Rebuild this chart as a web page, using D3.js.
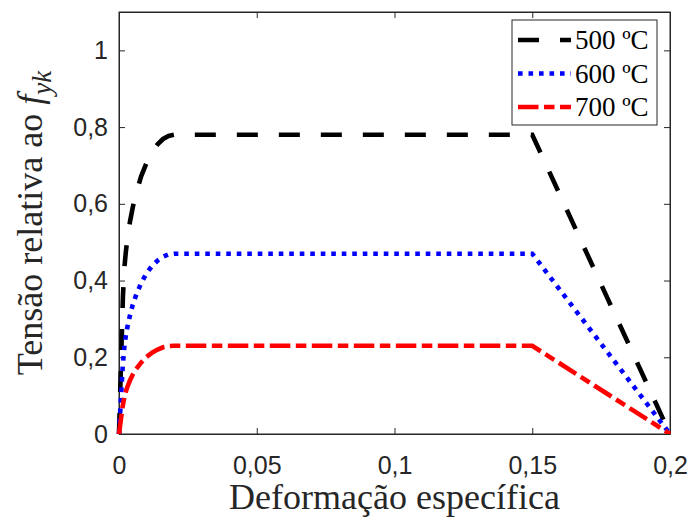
<!DOCTYPE html>
<meta charset="utf-8">
<script src="https://d3js.org/d3.v7.min.js"></script>
<style>
  body { margin: 0; background: #fff; }
</style>
<div id="my_dataviz"></div>
<script>
  // strain (x) and relative stress (y)
  var strain500 = [0, 0.00143, 0.002, 0.0025, 0.003, 0.004, 0.005, 0.006, 0.008, 0.010, 0.012, 0.014, 0.016, 0.018, 0.020, 0.150, 0.200];
  var stress500 = [0, 0.36, 0.437, 0.476, 0.506, 0.554, 0.591, 0.622, 0.671, 0.707, 0.735, 0.755, 0.769, 0.777, 0.78, 0.78, 0];
  var strain600 = [0, 0.00138, 0.002, 0.0025, 0.003, 0.004, 0.005, 0.006, 0.008, 0.010, 0.012, 0.014, 0.016, 0.018, 0.020, 0.150, 0.200];
  var stress600 = [0, 0.18, 0.231, 0.257, 0.277, 0.310, 0.337, 0.358, 0.393, 0.419, 0.438, 0.452, 0.462, 0.468, 0.47, 0.47, 0];
  var strain700 = [0, 0.00128, 0.002, 0.0025, 0.003, 0.004, 0.005, 0.006, 0.008, 0.010, 0.012, 0.014, 0.016, 0.018, 0.020, 0.150, 0.200];
  var stress700 = [0, 0.07, 0.098, 0.111, 0.122, 0.140, 0.155, 0.167, 0.186, 0.201, 0.212, 0.220, 0.226, 0.229, 0.23, 0.23, 0];

  var seriesNames = ["500 ºC", "600 ºC", "700 ºC"];
  var xTicks = [0, 0.05, 0.1, 0.15, 0.2];
  var yTicks = [0, 0.2, 0.4, 0.6, 0.8, 1];

  var series = [
    {name: seriesNames[0], x: strain500, y: stress500, color: "#000000", dash: "21,21"},
    {name: seriesNames[1], x: strain600, y: stress600, color: "#0000ff", dash: "4.6,5.9"},
    {name: seriesNames[2], x: strain700, y: stress700, color: "#ff0000", dash: "20.5,5.5,10.5,5.5"}
  ];

  var margin = {top: 12, right: 20, bottom: 87, left: 119},
      width = 690 - margin.left - margin.right,
      height = 521 - margin.top - margin.bottom;

  var svg = d3.select("#my_dataviz")
    .append("svg")
      .attr("width", 690)
      .attr("height", 521)
    .append("g")
      .attr("transform", "translate(" + margin.left + "," + margin.top + ")");

  var x = d3.scaleLinear().domain([0, 0.2]).range([0, width]);
  var y = d3.scaleLinear().domain([0, 1.1]).range([height, 0]);

  var fmt = function(d) { return String(d).replace(".", ","); };
  var axisColor = "#262626";

  // axes with inward ticks on all four sides
  svg.append("g")
    .attr("transform", "translate(0," + height + ")")
    .call(d3.axisBottom(x).tickValues(xTicks).tickFormat(fmt).tickSizeInner(-6).tickSizeOuter(0).tickPadding(22));
  svg.append("g")
    .call(d3.axisTop(x).tickValues(xTicks).tickFormat("").tickSizeInner(-6).tickSizeOuter(0));
  svg.append("g")
    .call(d3.axisLeft(y).tickValues(yTicks).tickFormat(fmt).tickSizeInner(-6).tickSizeOuter(0).tickPadding(11));
  svg.append("g")
    .attr("transform", "translate(" + width + ",0)")
    .call(d3.axisRight(y).tickValues(yTicks).tickFormat("").tickSizeInner(-6).tickSizeOuter(0));

  svg.selectAll(".domain").attr("stroke", axisColor);
  svg.selectAll(".tick line").attr("stroke", axisColor);
  svg.selectAll(".tick text")
    .attr("fill", axisColor)
    .style("font-family", "'Liberation Sans', Arial, sans-serif")
    .style("font-size", "25px");

  // frame
  svg.append("rect")
    .attr("width", width).attr("height", height)
    .attr("fill", "none").attr("stroke", axisColor);

  svg.append("clipPath").attr("id", "clip")
    .append("rect").attr("x", -3).attr("y", -3).attr("width", width + 6).attr("height", height + 3);

  var line = d3.line()
    .x(function(d) { return x(d[0]); })
    .y(function(d) { return y(d[1]); });

  svg.append("g").attr("clip-path", "url(#clip)")
    .selectAll("path.curve")
    .data(series)
    .enter()
    .append("path")
      .attr("class", "curve")
      .attr("d", function(s) { return line(d3.zip(s.x, s.y)); })
      .attr("fill", "none")
      .attr("stroke", function(s) { return s.color; })
      .attr("stroke-width", 4.6)
      .attr("stroke-dasharray", function(s) { return s.dash; });

  // legend
  var legend = svg.append("g").attr("transform", "translate(" + (512 - margin.left) + "," + (20 - margin.top) + ")");
  legend.append("rect")
    .attr("width", 145).attr("height", 105)
    .attr("fill", "#fff").attr("stroke", axisColor);
  series.forEach(function(s, i) {
    var cy = 20 + i * 33.5;
    legend.append("line")
      .attr("x1", 6).attr("x2", 59).attr("y1", cy).attr("y2", cy)
      .attr("stroke", s.color).attr("stroke-width", 4.6)
      .attr("stroke-dasharray", s.dash);
    legend.append("text")
      .attr("x", 63).attr("y", cy + 9)
      .style("font-family", "'Liberation Serif', 'Times New Roman', serif")
      .style("font-size", "27px")
      .text(s.name);
  });

  // axis titles
  svg.append("text")
    .attr("text-anchor", "middle")
    .attr("x", width / 2)
    .attr("y", height + 75)
    .style("font-family", "'Liberation Serif', 'Times New Roman', serif")
    .style("font-size", "36px")
    .attr("fill", axisColor)
    .text("Deformação específica");

  var yl = svg.append("text")
    .attr("text-anchor", "middle")
    .attr("transform", "translate(" + (-77) + "," + (height / 2) + ") rotate(-90)")
    .style("font-family", "'Liberation Serif', 'Times New Roman', serif")
    .style("font-size", "36px")
    .attr("fill", axisColor);
  yl.append("tspan").text("Tensão relativa ao ");
  yl.append("tspan").style("font-style", "italic").text("f");
  yl.append("tspan").style("font-style", "italic").style("font-size", "27px").attr("dy", 9).text("yk");
</script>
